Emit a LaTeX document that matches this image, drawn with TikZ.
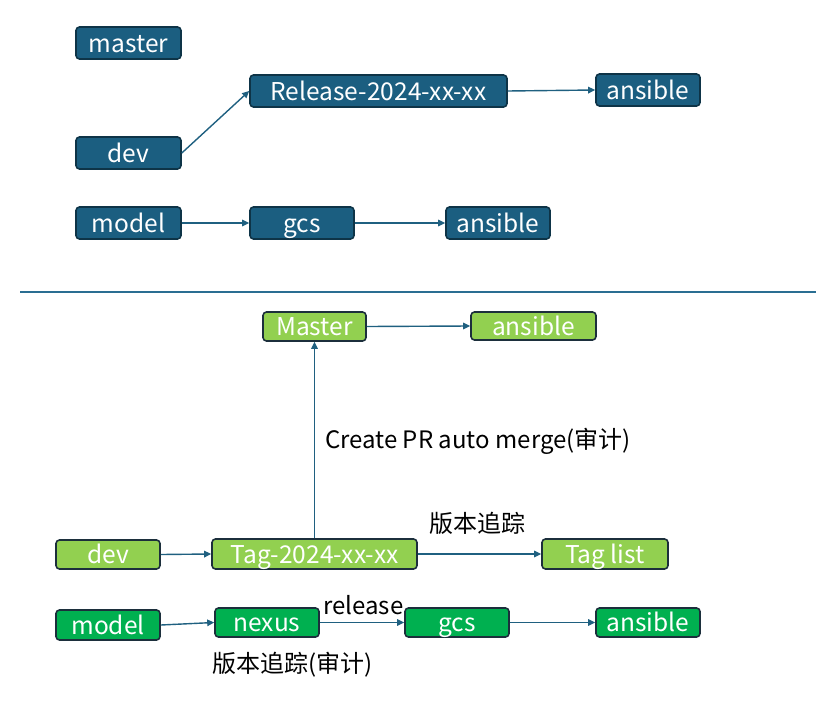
\documentclass[tikz,border=0pt]{standalone}
\usepackage{fontspec}
\setmainfont{Noto Sans CJK SC}
\usetikzlibrary{arrows.meta}
\definecolor{bluefill}{HTML}{1B5E80}
\definecolor{blueborder}{HTML}{0E3447}
\definecolor{lgreen}{HTML}{92D050}
\definecolor{dgreen}{HTML}{00B050}
\definecolor{gborder}{HTML}{1C2F3C}
\definecolor{arrowc}{HTML}{1F6080}
\definecolor{divider}{HTML}{2A6E92}
\tikzset{
  box/.style={draw, line width=1.6pt, rounded corners=3.5pt, inner sep=0pt, text=white,
    font=\fontsize{24.5}{28}\selectfont, text height=22pt, text depth=3.4pt},
  bluebox/.style={box, fill=bluefill, draw=blueborder},
  lgbox/.style={box, fill=lgreen, draw=gborder},
  dgbox/.style={box, fill=dgreen, draw=gborder},
  conn/.style={draw=arrowc, line width=1.4pt, -{Triangle[length=7pt,width=6.5pt]}},
  lbl/.style={inner sep=0pt, text=black, font=\fontsize{24}{28}\selectfont},
}
\begin{document}
\begin{tikzpicture}[x=1pt,y=-1pt]
\useasboundingbox (0,0) rectangle (816,701);
% top section
\node[bluebox, minimum width=105pt, minimum height=32pt] (masterT) at (128.5,43) {master};
\node[bluebox, minimum width=257pt, minimum height=32pt] (rel) at (378.5,91) {Release-2024-xx-xx};
\node[bluebox, minimum width=104pt, minimum height=32pt] (ans1) at (648,90) {ansible};
\node[bluebox, minimum width=105pt, minimum height=32pt] (devT) at (128.5,153) {dev};
\node[bluebox, minimum width=105pt, minimum height=32pt] (modelT) at (128.5,223) {model};
\node[bluebox, minimum width=104pt, minimum height=32pt] (gcsT) at (302,223) {gcs};
\node[bluebox, minimum width=104pt, minimum height=32pt] (ans2) at (498,223) {ansible};
\draw[conn] (devT.east) -- (rel.west);
\draw[conn] (rel.east) -- (ans1.west);
\draw[conn] (modelT.east) -- (gcsT.west);
\draw[conn] (gcsT.east) -- (ans2.west);
% divider
\coordinate (dl) at (20,292);
\coordinate (dr) at (816,292);
\draw[divider, line width=1.4pt] (dl) -- (dr);
% bottom section
\node[lgbox, minimum width=103pt, minimum height=29pt] (masterB) at (314.5,326.5) {Master};
\node[lgbox, minimum width=125pt, minimum height=28pt] (ans3) at (533.5,326) {ansible};
\node[lgbox, minimum width=104pt, minimum height=29pt] (devB) at (108,554.5) {dev};
\node[lgbox, minimum width=205pt, minimum height=30pt] (tag) at (314.5,554) {Tag-2024-xx-xx};
\node[lgbox, minimum width=126pt, minimum height=30pt] (taglist) at (605,554) {Tag list};
\node[dgbox, minimum width=104pt, minimum height=30pt] (modelB) at (108,625) {model};
\node[dgbox, minimum width=104pt, minimum height=29pt] (nexus) at (267,622.5) {nexus};
\node[dgbox, minimum width=104pt, minimum height=29pt] (gcsB) at (457,622.5) {gcs};
\node[dgbox, minimum width=104pt, minimum height=29pt] (ans4) at (648,622.5) {ansible};
\draw[conn] (masterB.east) -- (ans3.west);
\draw[conn] (tag.north) -- (masterB.south);
\draw[conn] (devB.east) -- (tag.west);
\draw[conn] (tag.east) -- (taglist.west);
\draw[conn] (modelB.east) -- (nexus.west);
\draw[conn] (nexus.east) -- (gcsB.west);
\draw[conn] (gcsB.east) -- (ans4.west);
% labels
\node[lbl, anchor=west] (l1) at (325,441) {Create PR auto merge(审计)};
\node[lbl, anchor=west] (l2) at (429,523) {版本追踪};
\node[lbl, anchor=west] (l3) at (323,605) {release};
\node[lbl, anchor=west] (l4) at (212,665) {版本追踪(审计)};
\end{tikzpicture}
\end{document}
